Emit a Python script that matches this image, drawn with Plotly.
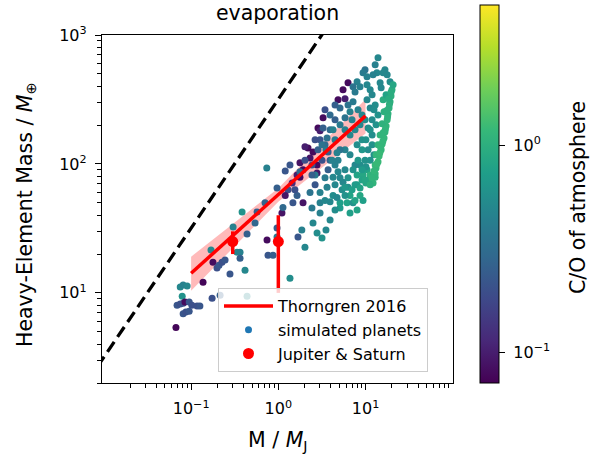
import numpy as np
import plotly.graph_objects as go

# Simulated planets: total mass [M_J], heavy-element mass [M_earth], atmospheric C/O
planet_mass = [
    0.067, 0.075, 0.081, 0.090, 0.079, 0.069, 0.075, 0.081, 0.085, 0.095,
    0.102, 0.117, 0.126, 0.081, 0.087, 0.095, 0.137, 0.174, 0.215, 0.438,
    0.169, 0.178, 0.198, 0.209, 0.226, 0.245, 0.279, 0.303, 0.336, 0.364,
    0.364, 0.415, 0.384, 0.438, 0.541, 0.570, 0.704, 0.966, 0.742, 0.762,
    0.869, 0.966, 0.966, 1.10, 1.13, 1.36, 1.47, 1.64, 1.68, 1.86,
    2.02, 2.50, 2.78, 3.01, 3.17, 3.01, 3.92, 2.43, 2.31, 3.01,
    3.92, 4.24, 5.10, 6.14, 6.64, 7.19, 6.30, 8.0, 8.0, 9.36,
    10.4, 12.2, 12.9, 4.24, 5.52, 3.62, 2.78, 1.92, 1.20, 1.77,
    6.30, 5.52, 4.84, 5.82, 3.26, 2.85, 3.01, 2.19, 2.02, 2.50,
    2.31, 2.78, 1.77, 1.92, 1.64, 1.44, 1.55,
    3.43, 3.92, 4.47, 3.01, 3.43, 3.72, 2.64, 3.92, 3.17, 2.43,
    2.02, 1.77, 1.29, 1.20, 2.64, 1.36, 3.72,
    13.9, 12.9, 13.5, 16.7, 17.7, 19.1, 9.87, 9.36, 8.0, 7.19,
    8.65, 10.4, 11.3, 7.58, 6.30, 7.19, 10.4, 11.3, 8.2, 9.12,
    6.64, 5.82, 5.10, 4.47, 5.10, 5.82, 6.64, 7.58, 8.65, 9.87,
    10.7, 11.9, 11.9, 10.7, 9.87, 8.65, 7.58, 6.64, 5.82, 5.10,
    4.47, 4.84, 5.82, 5.10, 9.12, 8.0, 7.0, 3.92, 4.47, 3.43,
    2.85, 2.64, 7.58, 7.0, 15.1, 11.9, 12.9, 13.9, 13.2, 12.5,
    11.3, 10.1, 9.12,
    20.1, 19.6, 19.1, 18.6, 18.1, 17.7, 17.2, 16.7, 16.3, 15.5,
    15.1, 14.3, 13.9, 13.2, 12.9, 15.9, 16.3, 15.5, 14.7, 13.9,
    13.2, 12.9, 11.3, 10.7, 10.1, 9.12, 8.65, 20.7, 17.2, 15.9,
    12.2, 10.4, 14.7, 4.71, 5.10, 6.64, 8.0, 9.36, 5.82, 3.43,
    4.47, 3.52, 0.737, 4.24, 3.62, 4.71, 3.26, 2.43,
    19.6, 18.8, 17.9, 16.9, 15.8, 14.6, 13.5, 12.5, 11.8, 17.5,
    18.4, 16.0, 14.9,
    4.47, 5.38, 6.30, 7.19, 8.2, 9.12, 10.1, 11.3, 11.9, 12.5,
    9.87, 11.3, 8.65, 7.58, 5.82, 4.84, 4.13, 3.52, 3.17,
]
planet_mz = [
    5.4, 11.1, 11.5, 11.3, 9.4, 8.0, 8.2, 8.3, 8.5, 8.5,
    8.0, 7.9, 7.9, 6.9, 7.1, 7.2, 12.1, 9.1, 9.6, 9.4,
    21.5, 17.3, 15.6, 16.4, 17.3, 18.0, 14.0, 32.4, 20.7, 20.7,
    18.6, 15.0, 42.4, 28.6, 34.8, 42.4, 50, 65, 25.7, 19.6,
    19.6, 31.8, 27.1, 41.6, 46, 13.0, 50, 57, 27.1, 30.7,
    22.6, 34.8, 29.1, 41.6, 26.6, 50, 36.7, 45.5, 60, 60,
    51, 57, 50, 50, 57, 50, 66, 69, 82, 82,
    90, 71, 79, 79, 72, 66, 85, 50, 88, 79,
    426, 376, 314, 320, 228, 190, 181, 133, 136, 124,
    111, 98, 102, 90, 82, 71, 63,
    263, 240, 220, 154, 141, 124, 154, 107, 107, 98,
    107, 87, 63, 57, 69, 98, 90,
    667, 588, 509, 537, 492, 434, 537, 509, 434, 396,
    396, 411, 376, 362, 287, 303, 314, 272, 263, 240,
    254, 228, 272, 287, 201, 184, 168, 184, 201, 220,
    190, 168, 141, 129, 107, 98, 98, 118, 129, 129,
    154, 107, 90, 78, 154, 141, 220, 184, 98, 78,
    129, 82, 69, 63, 390, 344, 287, 240, 201, 118,
    107, 95, 90,
    376, 337, 303, 272, 245, 220, 197, 177, 159, 143,
    129, 115, 104, 93, 84, 314, 254, 205, 168, 141,
    118, 98, 82, 75, 71, 75, 65, 411, 344, 509,
    492, 474, 426, 55, 45.5, 41.6, 44, 52, 57, 52,
    44, 30.7, 93, 184, 159, 122, 190, 82,
    360, 290, 232, 187, 150, 122, 100, 88, 78, 260,
    320, 175, 135,
    69, 63, 78, 90, 107, 129, 154, 184, 220, 263,
    75, 69, 57, 52, 66, 87, 107, 129, 141,
]
planet_co = [
    0.075, 0.5, 0.45, 0.5, 0.6, 0.22, 0.2, 0.2, 0.08, 0.22,
    0.2, 0.2, 0.22, 0.22, 0.2, 0.22, 0.075, 0.2, 0.25, 0.5,
    0.5, 0.08, 0.2, 0.22, 0.2, 0.22, 0.22, 0.45, 0.5, 0.45,
    0.25, 0.5, 0.6, 0.25, 0.28, 0.25, 0.28, 0.25, 0.08, 0.22,
    0.25, 0.25, 0.4, 0.09, 0.3, 0.55, 0.22, 0.25, 0.22, 0.45,
    0.5, 0.5, 0.55, 0.45, 0.6, 0.45, 0.5, 0.4, 0.35, 0.45,
    0.5, 0.55, 0.75, 0.8, 0.8, 0.6, 0.55, 0.75, 0.8, 0.85,
    0.8, 1.1, 1.1, 0.5, 0.5, 0.45, 0.09, 0.09, 0.22, 0.08,
    0.08, 0.08, 0.08, 0.1, 0.08, 0.08, 0.1, 0.08, 0.1, 0.08,
    0.09, 0.08, 0.09, 0.08, 0.1, 0.12, 0.2,
    0.2, 0.3, 0.25, 0.22, 0.3, 0.25, 0.2, 0.25, 0.2, 0.22,
    0.2, 0.3, 0.2, 0.09, 0.22, 0.22, 0.25,
    0.5, 0.45, 0.5, 0.5, 0.5, 0.55, 0.35, 0.4, 0.45, 0.35,
    0.45, 0.5, 0.5, 0.4, 0.35, 0.4, 0.5, 0.5, 0.45, 0.5,
    0.45, 0.35, 0.3, 0.25, 0.4, 0.45, 0.5, 0.5, 0.5, 0.55,
    0.55, 0.55, 0.6, 0.55, 0.6, 0.55, 0.5, 0.5, 0.45, 0.35,
    0.4, 0.45, 0.5, 0.5, 0.6, 0.55, 0.45, 0.3, 0.45, 0.4,
    0.25, 0.4, 0.7, 0.75, 0.5, 0.5, 0.55, 0.6, 0.6, 0.6,
    0.6, 0.6, 0.7,
    0.95, 1.0, 1.0, 1.05, 1.05, 1.1, 1.1, 1.1, 1.15, 1.15,
    1.15, 1.2, 1.2, 1.15, 1.1, 0.95, 1.0, 1.05, 1.1, 1.1,
    1.15, 1.15, 1.05, 0.9, 0.85, 0.8, 0.8, 0.85, 0.8, 0.5,
    0.45, 0.45, 0.5, 0.5, 0.7, 0.75, 0.8, 0.75, 0.6, 0.5,
    0.55, 0.5, 0.45, 0.45, 0.35, 0.45, 0.25, 0.25,
    0.95, 1.0, 1.05, 1.1, 1.15, 1.2, 1.2, 1.15, 1.1, 1.0,
    0.95, 1.1, 1.15,
    0.5, 0.55, 0.6, 0.6, 0.65, 0.65, 0.6, 0.6, 0.55, 0.55,
    0.85, 1.0, 0.85, 0.8, 0.65, 0.5, 0.45, 0.4, 0.35,
]

# Thorngren et al. (2016) mass-metallicity relation and its uncertainty envelope
thorngren_mass = [0.1, 1.0, 10.0]
thorngren_mz = [14.2, 57.9, 236.0]
thorngren_upper = [19.1, 64.9, 318.0]
thorngren_lower = [10.4, 50.9, 172.0]

# Saturn and Jupiter with their heavy-element ranges
js_mass = [0.3, 1.0]
js_mz = [25.0, 25.0]
js_err_plus = [5.0, 15.0]
js_err_minus = [5.0, 15.0]

# Limit where the whole planet is made of heavy elements (1 M_J = 317.8 M_earth)
limit_mass = [0.001, 10.0]
limit_mz = [0.3178, 3178.0]

# C/O colour range and ticks
co_min, co_max = 0.071, 4.75
cbar_ticks = [0.1, 1.0]
cbar_ticktext = ["\u00a010<sup>\u22121</sup>", "\u00a010<sup>0</sup>"]

x_ticks = [0.1, 1.0, 10.0]
x_ticktext = ["10<sup>\u22121</sup>", "10<sup>0</sup>", "10<sup>1</sup>"]
y_ticks = [10.0, 100.0, 1000.0]
y_ticktext = ["10<sup>1</sup>", "10<sup>2</sup>", "10<sup>3</sup>"]

W, H = 609, 463
FONT = "DejaVu Sans"
TICK_SIZE = 16
LABEL_SIZE = 20.5
minor_vals = [m * 10.0 ** e for e in range(-3, 4) for m in range(2, 10)]

fig = go.Figure()

fig.add_trace(go.Scatter(
    x=limit_mass, y=limit_mz, mode="lines",
    line=dict(color="black", width=3.3, dash="12px,6px"),
    showlegend=False, hoverinfo="skip",
))

fig.add_trace(go.Scatter(
    x=thorngren_mass, y=thorngren_lower, mode="lines",
    line=dict(width=0, color="rgba(0,0,0,0)"), showlegend=False, hoverinfo="skip",
))
fig.add_trace(go.Scatter(
    x=thorngren_mass, y=thorngren_upper, mode="lines",
    line=dict(width=0, color="rgba(0,0,0,0)"), fill="tonexty",
    fillcolor="rgba(255,0,0,0.27)", showlegend=False, hoverinfo="skip",
))

fig.add_trace(go.Scatter(
    x=planet_mass, y=planet_mz, mode="markers",
    marker=dict(
        size=7,
        color=np.log10(planet_co),
        colorscale="Viridis",
        cmin=np.log10(co_min), cmax=np.log10(co_max),
        line=dict(width=0),
        colorbar=dict(
            x=480 / W, xanchor="left", xpad=0,
            y=(H - 383) / H, yanchor="bottom", ypad=0,
            len=378, lenmode="pixels",
            thickness=19, thicknessmode="pixels",
            outlinewidth=1, outlinecolor="black",
            tickvals=np.log10(cbar_ticks), ticktext=cbar_ticktext,
            ticks="outside", ticklen=6, tickwidth=1.2, tickcolor="black",
            tickfont=dict(family=FONT, size=TICK_SIZE, color="black"),
        ),
    ),
    showlegend=False,
))

fig.add_trace(go.Scatter(
    x=thorngren_mass, y=thorngren_mz, mode="lines",
    line=dict(color="red", width=3.5),
    name="Thorngren 2016", legendrank=1,
))

# legend entry for the simulated population
fig.add_trace(go.Scatter(
    x=[None], y=[None], mode="markers",
    marker=dict(size=7, color="#1f77b4"),
    name="simulated planets", legendrank=2,
))

fig.add_trace(go.Scatter(
    x=js_mass, y=js_mz, mode="markers",
    marker=dict(size=11, color="red"),
    error_y=dict(type="data", symmetric=False, array=js_err_plus,
                 arrayminus=js_err_minus, color="red", thickness=3.5, width=0),
    name="Jupiter & Saturn", legendrank=3,
))

axis_common = dict(
    type="log", showgrid=False, zeroline=False,
    showline=True, linecolor="black", linewidth=1.3, mirror=True,
    ticks="outside", ticklen=6, tickwidth=1.3, tickcolor="black",
    ticklabelstandoff=5,
    tickfont=dict(family=FONT, size=TICK_SIZE, color="black"),
)

fig.update_layout(
    width=W, height=H,
    margin=dict(l=0, r=0, t=0, b=0, autoexpand=False),
    paper_bgcolor="white", plot_bgcolor="white",
    font=dict(family=FONT, size=TICK_SIZE, color="black"),
    xaxis=dict(
        **axis_common,
        domain=[102 / W, 453 / W],
        range=[-2.022, 2.003],
        tickvals=x_ticks, ticktext=x_ticktext,
        minor=dict(tickvals=minor_vals, ticks="outside", ticklen=3.5,
                   tickwidth=1, tickcolor="black"),
    ),
    yaxis=dict(
        **axis_common,
        domain=[(H - 383) / H, (H - 35) / H],
        range=[np.log10(2.0), 3.0],
        tickvals=y_ticks, ticktext=y_ticktext,
        minor=dict(tickvals=minor_vals, ticks="outside", ticklen=3.5,
                   tickwidth=1, tickcolor="black"),
    ),
    legend=dict(
        x=218 / W, y=(H - 288) / H, xanchor="left", yanchor="top",
        bgcolor="rgba(255,255,255,0.8)", bordercolor="#cccccc", borderwidth=1,
        font=dict(family=FONT, size=TICK_SIZE, color="black"),
        traceorder="normal", itemwidth=49,
    ),
    annotations=[
        dict(text="evaporation", x=277.5 / W, y=(H - 13) / H, xref="paper",
             yref="paper", showarrow=False, xanchor="center", yanchor="middle",
             font=dict(family=FONT, size=LABEL_SIZE, color="black")),
        dict(text="M / <i>M</i><sub>J</sub>", x=278 / W, y=(H - 441) / H,
             xref="paper", yref="paper", showarrow=False,
             xanchor="center", yanchor="middle",
             font=dict(family=FONT, size=LABEL_SIZE, color="black")),
        dict(text="Heavy-Element Mass / <i>M</i><sub>\u2295</sub>",
             x=26 / W, y=(H - 215) / H, xref="paper", yref="paper",
             showarrow=False, textangle=-90, xanchor="center", yanchor="middle",
             font=dict(family=FONT, size=LABEL_SIZE, color="black")),
        dict(text="C/O of atmosphere",
             x=578 / W, y=(H - 198) / H, xref="paper", yref="paper",
             showarrow=False, textangle=-90, xanchor="center", yanchor="middle",
             font=dict(family=FONT, size=LABEL_SIZE, color="black")),
    ],
)

fig.write_html("out.html")
